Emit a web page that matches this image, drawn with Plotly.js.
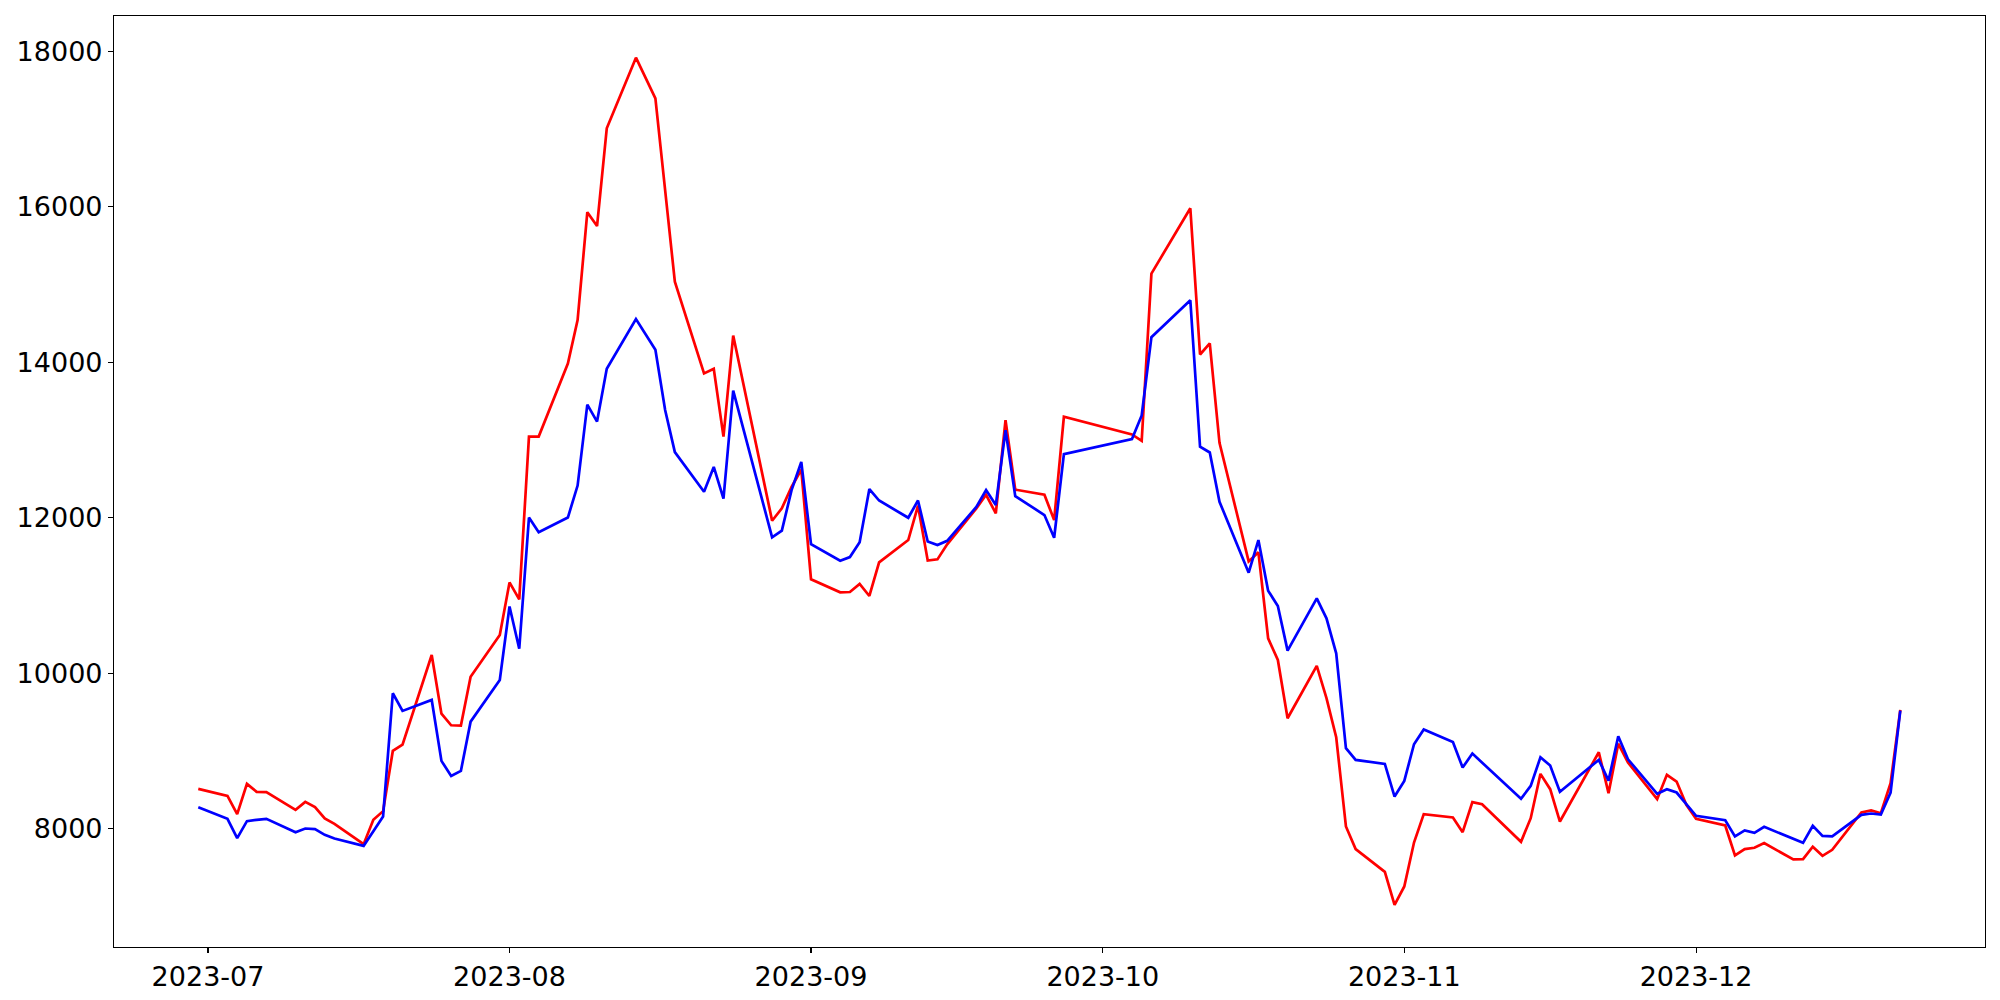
<!DOCTYPE html>
<html>
<head>
<meta charset="utf-8">
<script src="https://cdn.plot.ly/plotly-3.0.1.min.js"></script>
<style>html,body{margin:0;padding:0;background:#fff;}#chart{width:2000px;height:1000px;}</style>
</head>
<body>
<div id="chart"></div>
<script>
const dates = [
 "2023-06-30",
 "2023-07-03","2023-07-04","2023-07-05","2023-07-06","2023-07-07",
 "2023-07-10","2023-07-11","2023-07-12","2023-07-13","2023-07-14",
 "2023-07-17","2023-07-18","2023-07-19","2023-07-20","2023-07-21",
 "2023-07-24","2023-07-25","2023-07-26","2023-07-27","2023-07-28",
 "2023-07-31","2023-08-01","2023-08-02","2023-08-03","2023-08-04",
 "2023-08-07","2023-08-08","2023-08-09","2023-08-10","2023-08-11",
 "2023-08-14","2023-08-16","2023-08-17","2023-08-18",
 "2023-08-21","2023-08-22","2023-08-23","2023-08-24",
 "2023-08-28","2023-08-29","2023-08-30","2023-08-31","2023-09-01",
 "2023-09-04","2023-09-05","2023-09-06","2023-09-07","2023-09-08",
 "2023-09-11","2023-09-12","2023-09-13","2023-09-14","2023-09-15",
 "2023-09-18","2023-09-19","2023-09-20","2023-09-21","2023-09-22",
 "2023-09-25","2023-09-26","2023-09-27",
 "2023-10-04","2023-10-05","2023-10-06",
 "2023-10-10","2023-10-11","2023-10-12","2023-10-13",
 "2023-10-16","2023-10-17","2023-10-18","2023-10-19","2023-10-20",
 "2023-10-23","2023-10-24","2023-10-25","2023-10-26","2023-10-27",
 "2023-10-30","2023-10-31","2023-11-01","2023-11-02","2023-11-03",
 "2023-11-06","2023-11-07","2023-11-08","2023-11-09",
 "2023-11-13","2023-11-14","2023-11-15","2023-11-16","2023-11-17",
 "2023-11-21","2023-11-22","2023-11-23","2023-11-24",
 "2023-11-27","2023-11-28","2023-11-29","2023-11-30","2023-12-01",
 "2023-12-04","2023-12-05","2023-12-06","2023-12-07","2023-12-08",
 "2023-12-11","2023-12-12","2023-12-13","2023-12-14","2023-12-15",
 "2023-12-18","2023-12-19","2023-12-20","2023-12-21","2023-12-22"
];

const redSeries = [
 8514,
 8424,8189,8578,8475,8471,
 8244,8347,8279,8133,8064,
 7803,8116,8227,9002,9083,
 10236,9482,9332,9328,9957,
 10493,11169,10951,13045,13045,
 13985,14544,15931,15753,17010,
 17919,17395,16231,15037,
 13857,13918,13045,14345,
 11963,12122,12397,12620,11209,
 11042,11046,11149,10995,11428,
 11715,12156,11451,11466,11659,
 12122,12297,12058,13257,12363,
 12297,11972,13300,
 13073,12991,15142,
 15982,14101,14243,12965,
 11440,11556,10451,10172,9422,
 10095,9680,9178,8030,7739,
 7447,7023,7259,7824,8189,
 8146,7957,8343,8317,
 7833,8137,8707,8510,8094,
 8985,8459,9095,8852,
 8381,8694,8608,8308,8129,
 8043,7657,7739,7756,7816,
 7606,7610,7769,7653,7730,
 8210,8236,8201,8587,9530
];

const blueSeries = [
 8279,
 8129,7880,8099,8116,8129,
 7957,8004,7996,7923,7876,
 7781,7970,8159,9744,9517,
 9658,8874,8681,8745,9379,
 9915,10860,10316,12004,11815,
 12004,12415,13456,13238,13918,
 14558,14163,13388,12846,
 12335,12655,12248,13637,
 11749,11835,12357,12719,11663,
 11448,11496,11685,12370,12223,
 12001,12223,11695,11650,11704,
 12140,12357,12164,13128,12280,
 12036,11744,12820,
 13013,13317,14324,
 14799,12914,12841,12207,
 11295,11714,11063,10866,10292,
 10965,10708,10258,9037,8887,
 8835,8415,8617,9088,9277,
 9118,8788,8968,8852,
 8386,8553,8921,8814,8476,
 8887,8620,9190,8895,
 8450,8510,8467,8317,8167,
 8111,7902,7979,7949,8026,
 7871,7820,8039,7910,7902,
 8180,8197,8184,8467,9521
];

const yTickValues = [8000, 10000, 12000, 14000, 16000, 18000];
const yTickLabels = ["8000", "10000", "12000", "14000", "16000", "18000"];

const traces = [
  {x: dates, y: redSeries, type: "scatter", mode: "lines",
   line: {color: "#ff0000", width: 2.7}, hoverinfo: "x+y", showlegend: false},
  {x: dates, y: blueSeries, type: "scatter", mode: "lines",
   line: {color: "#0000ff", width: 2.7}, hoverinfo: "x+y", showlegend: false}
];

const axisFont = {family: "DejaVu Sans, sans-serif", size: 27, color: "#000"};

const layout = {
  width: 2000, height: 1000,
  margin: {l: 114, r: 15, t: 16, b: 53, pad: 0},
  paper_bgcolor: "#ffffff", plot_bgcolor: "#ffffff",
  showlegend: false,
  xaxis: {
    type: "date",
    range: ["2023-06-21 08:00", "2023-12-30 17:00"],
    tickformat: "%Y-%m", dtick: "M1", tick0: "2023-07-01",
    ticks: "outside", ticklen: 5, tickwidth: 1.1, tickcolor: "#000",
    showgrid: false, zeroline: false,
    showline: true, linecolor: "#000", linewidth: 1.1, mirror: true,
    tickfont: axisFont
  },
  yaxis: {
    range: [6480, 18455],
    tickvals: yTickValues, ticktext: yTickLabels,
    ticks: "outside", ticklen: 5, tickwidth: 1.1, tickcolor: "#000",
    showgrid: false, zeroline: false,
    showline: true, linecolor: "#000", linewidth: 1.1, mirror: true,
    tickfont: axisFont
  }
};

Plotly.newPlot("chart", traces, layout, {staticPlot: true, displayModeBar: false});
</script>
</body>
</html>
